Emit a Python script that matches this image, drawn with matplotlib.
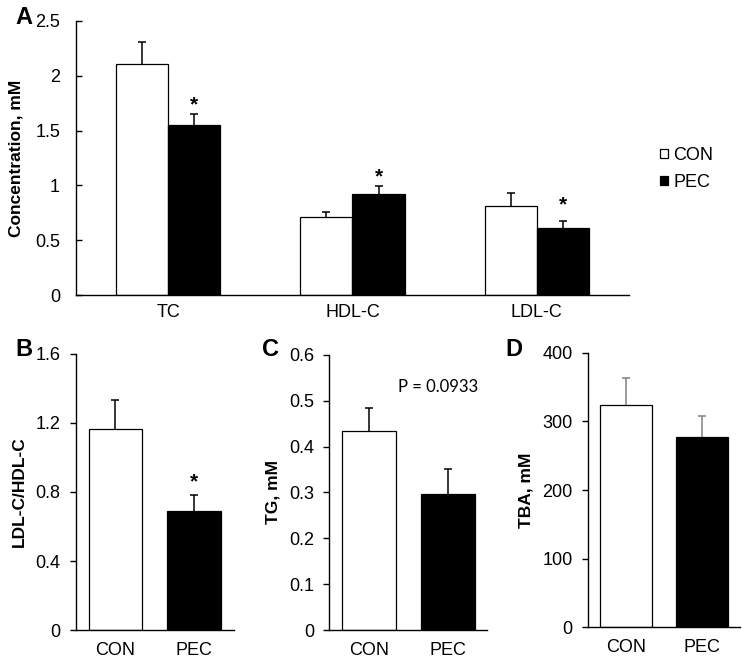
import numpy as np
import matplotlib
matplotlib.use("Agg")
import matplotlib.pyplot as plt

matplotlib.rc("font", **{"family": "sans-serif", "sans-serif": ["Liberation Sans"],
                         "size": 13})

# panel A: plasma lipids
lipids = ["TC", "HDL-C", "LDL-C"]
con_a = [2.11, 0.713, 0.816]
con_a_err = [0.20, 0.045, 0.116]
pec_a = [1.554, 0.92, 0.613]
pec_a_err = [0.096, 0.078, 0.067]
star_a = [1.73, 1.08, 0.82]

groups = ["CON", "PEC"]
# panel B: LDL-C/HDL-C ratio
ratio = [1.164, 0.69]
ratio_err = [0.17, 0.095]
star_b = 0.86
# panel C: TG
tg = [0.434, 0.297]
tg_err = [0.051, 0.054]
# panel D: TBA
tba = [324, 277.6]
tba_err = [39.5, 30.4]

fig = plt.figure(figsize=(7.42, 6.6), dpi=100)


def style(ax, tickdir, pad, xpad):
    for s in ["top", "right"]:
        ax.spines[s].set_visible(False)
    for s in ["left", "bottom"]:
        ax.spines[s].set_linewidth(1.0)
    ax.tick_params(axis="y", direction=tickdir, length=4, width=1.0, pad=pad,
                   labelsize=13)
    ax.tick_params(axis="x", length=0, pad=xpad, labelsize=13)


def upper_err(ax, xs, vals, errs, color):
    # only the upper whisker, like the original
    _, caps, _ = ax.errorbar(xs, vals, yerr=[np.zeros(len(vals)), errs],
                             fmt="none", ecolor=color, elinewidth=1.1,
                             capsize=3, capthick=1.1, zorder=1)
    caps[0].set_visible(False)


# ---- A ----
axA = fig.add_axes([0.1024, 0.5526, 0.7453, 0.416])
x = np.arange(len(lipids))
w = 0.283
bc = axA.bar(x - w / 2, con_a, w, color="white", edgecolor="black",
             linewidth=0.9, label="CON", zorder=2)
bp = axA.bar(x + w / 2, pec_a, w, color="black", edgecolor="black",
             linewidth=0.9, label="PEC", zorder=2)
upper_err(axA, x - w / 2, con_a, con_a_err, "black")
upper_err(axA, x + w / 2, pec_a, pec_a_err, "black")
for xi, sy in zip(x, star_a):
    axA.text(xi + w / 2, sy, "*", ha="center", va="center", fontsize=15,
             fontweight="bold")
axA.set_xlim(-0.5, 2.5)
axA.set_ylim(0, 2.5)
axA.set_yticks([0, 0.5, 1, 1.5, 2, 2.5])
axA.set_yticklabels(["0", "0.5", "1", "1.5", "2", "2.5"])
axA.set_xticks(x)
axA.set_xticklabels(lipids)
style(axA, "in", 11.5, 6)
axA.set_ylabel("Concentration, mM", fontweight="bold", fontsize=12.5,
               labelpad=8)
fig.legend(handles=[bc, bp], labels=["CON", "PEC"], loc="center left",
           bbox_to_anchor=(651 / 742, 1 - 169 / 660), frameon=False,
           fontsize=13, handlelength=0.45, handleheight=0.45,
           handletextpad=0.3, labelspacing=0.55, borderpad=0)
fig.text(15 / 742, 1 - 17 / 660, "A", fontsize=17, fontweight="bold",
         ha="left", va="center")


def small_panel(rect, vals, errs, ylim, yticks, ylabels, ylab, ecolor):
    ax = fig.add_axes(rect)
    xs = np.arange(2)
    ax.bar(xs, vals, 0.68, color=["white", "black"], edgecolor="black",
           linewidth=0.9, zorder=2)
    upper_err(ax, xs, vals, errs, ecolor)
    ax.set_xlim(-0.5, 1.5)
    ax.set_ylim(*ylim)
    ax.set_yticks(yticks)
    ax.set_yticklabels(ylabels)
    ax.set_xticks(xs)
    ax.set_xticklabels(groups)
    style(ax, "out", 7, 8.5)
    ax.set_ylabel(ylab, fontweight="bold", fontsize=12.5, labelpad=6)
    return ax


# ---- B ----
axB = small_panel([0.1024, 0.04545, 0.2123, 0.4182], ratio, ratio_err,
                  (0, 1.6), [0, 0.4, 0.8, 1.2, 1.6],
                  ["0", "0.4", "0.8", "1.2", "1.6"], "LDL-C/HDL-C", "black")
axB.text(1, star_b, "*", ha="center", va="center", fontsize=15,
         fontweight="bold")
fig.text(15 / 742, 1 - 350 / 660, "B", fontsize=17, fontweight="bold",
         ha="left", va="center")

# ---- C ----
axC = small_panel([0.4438, 0.04545, 0.2129, 0.4167], tg, tg_err,
                  (0, 0.6), [0, 0.1, 0.2, 0.3, 0.4, 0.5, 0.6],
                  ["0", "0.1", "0.2", "0.3", "0.4", "0.5", "0.6"],
                  "TG, mM", "black")
axC.text(0.88, 0.53, "P = 0.0933", ha="center", va="center", fontsize=12,
         family="Lato")
fig.text(262 / 742, 1 - 350 / 660, "C", fontsize=17, fontweight="bold",
         ha="left", va="center")

# ---- D ----
axD = small_panel([0.792, 0.0495, 0.2053, 0.4161], tba, tba_err,
                  (0, 400), [0, 100, 200, 300, 400],
                  ["0", "100", "200", "300", "400"], "TBA, mM", "#808080")
fig.text(505 / 742, 1 - 350 / 660, "D", fontsize=17, fontweight="bold",
         ha="left", va="center")

plt.savefig("out.png", dpi=100)
plt.close()
